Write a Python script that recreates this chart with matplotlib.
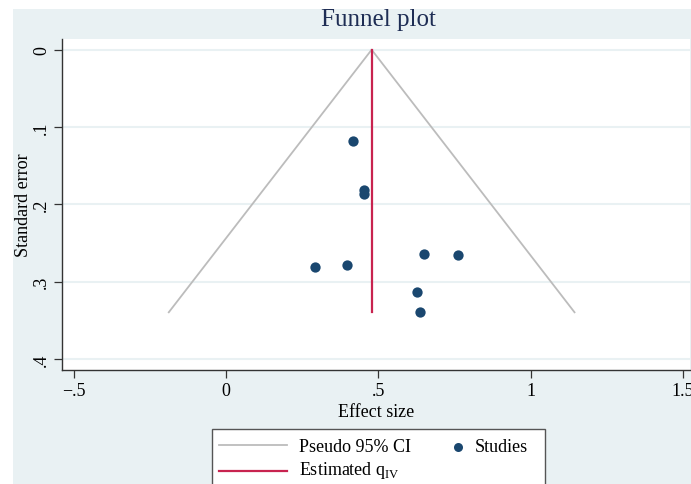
import matplotlib
matplotlib.use("Agg")
import matplotlib.pyplot as plt
from matplotlib.lines import Line2D
from matplotlib.patches import Rectangle
import numpy as np

# Data
effect_size = [0.418, 0.452, 0.452, 0.292, 0.398, 0.651, 0.760, 0.626, 0.637]
std_error = [0.118, 0.181, 0.187, 0.281, 0.2785, 0.264, 0.266, 0.314, 0.3397]
theta_iv = 0.478
x_ticks = [-0.5, 0, 0.5, 1, 1.5]
x_tick_labels = ["\u2212.5", "0", ".5", "1", "1.5"]
y_ticks = [0, 0.1, 0.2, 0.3, 0.4]
y_tick_labels = ["0", ".1", ".2", ".3", ".4"]

plt.rcParams['font.family'] = ['Liberation Serif', 'DejaVu Serif']
plt.rcParams['mathtext.fontset'] = 'custom'
plt.rcParams['mathtext.rm'] = 'Liberation Serif'

W, H = 691, 485
BG = "#e9f1f3"
NAVY = "#1a476f"
RED = "#c8234f"
GRAY = "#bcbcbc"

fig = plt.figure(figsize=(W / 100, H / 100), dpi=100)
fig.patch.set_facecolor("white")

def fx(px):
    return px / W

def fy(py):
    return 1 - py / H

# graph region background
fig.patches.append(Rectangle((fx(13), 0), 1 - fx(13), fy(10), transform=fig.transFigure,
                             facecolor=BG, edgecolor="none", zorder=-5))

left, right, top, bottom = 62, 690, 39.5, 370.5
ax = fig.add_axes([fx(left), fy(bottom), fx(right) - fx(left), fy(top) - fy(bottom)])
ax.set_zorder(1)
ax.set_facecolor("white")

maxse = max(std_error)
ax.plot([theta_iv - 1.96 * maxse, theta_iv, theta_iv + 1.96 * maxse], [maxse, 0, maxse],
        color=GRAY, lw=1.3, zorder=2)
ax.plot([theta_iv, theta_iv], [0, maxse], color=RED, lw=1.6, zorder=3)
ax.scatter(effect_size, std_error, s=55, color=NAVY, zorder=4, linewidths=0)

ax.set_xlim((left - 226) / 304.7, (right - 226) / 304.7)
ax.set_ylim((bottom - 50.7) / 773.0, (top - 50.7) / 773.0)

ax.set_xticks(x_ticks)
ax.set_xticklabels(x_tick_labels, fontsize=13)
ax.set_yticks(y_ticks)
ax.set_yticklabels(y_tick_labels, fontsize=13, rotation=90, va="center")
ax.tick_params(axis="both", direction="out", length=5.5, width=0.9, color="#333333")
ax.tick_params(axis="x", pad=3.5)
ax.tick_params(axis="y", pad=3)
for s in ["top", "right"]:
    ax.spines[s].set_visible(False)
for s in ["left", "bottom"]:
    ax.spines[s].set_color("#333333")
    ax.spines[s].set_linewidth(1.0)
ax.grid(axis="y", color=BG, lw=1.5, zorder=0)
ax.set_axisbelow(True)

ax.set_xlabel("Effect size", fontsize=13, labelpad=3)
ax.set_ylabel("Standard error", fontsize=13, labelpad=1)

fig.text(fx(378), fy(20), "Funnel plot", fontsize=18, color="#1e2d54", ha="center", va="center")

# legend (manual, Stata style)
fig.patches.append(Rectangle((fx(212), fy(500)), fx(545) - fx(212), fy(430) - fy(500),
                             transform=fig.transFigure, facecolor="white",
                             edgecolor="#555555", lw=1.0, zorder=5))
fig.lines.append(Line2D([fx(219), fx(287)], [fy(446), fy(446)], transform=fig.transFigure,
                        color=GRAY, lw=1.3, zorder=6))
fig.lines.append(Line2D([fx(219), fx(287)], [fy(472), fy(472)], transform=fig.transFigure,
                        color=RED, lw=1.6, zorder=6))
fig.lines.append(Line2D([fx(458)], [fy(447.5)], transform=fig.transFigure, marker="o",
                        markersize=6.5, color=NAVY, markeredgewidth=0, linestyle="none", zorder=6))
fig.text(fx(299), fy(447.5), "Pseudo 95% CI", fontsize=13, va="center", ha="left", zorder=7)
fig.text(fx(475), fy(447.5), "Studies", fontsize=13, va="center", ha="left", zorder=7)
fig.text(fx(299), fy(471), r"Estimated q$_{\mathrm{IV}}$", fontsize=13, va="center", ha="left", zorder=7)

fig.savefig("out.png", dpi=100, facecolor=fig.get_facecolor())
